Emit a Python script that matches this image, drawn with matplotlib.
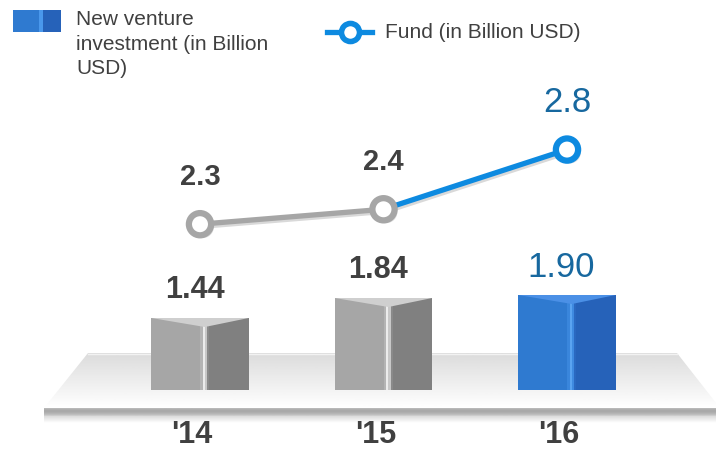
import matplotlib.pyplot as plt
import numpy as np
from matplotlib.patches import Polygon, Rectangle
from matplotlib.lines import Line2D
import matplotlib.patheffects as pe
import matplotlib.transforms as mtrans

plt.rcParams['font.family'] = ['Liberation Sans', 'DejaVu Sans']

# data
years = ["'14", "'15", "'16"]
investment = [1.44, 1.84, 1.90]
investment_labels = ['1.44', '1.84', '1.90']
fund = [2.3, 2.4, 2.8]
fund_labels = ['2.3', '2.4', '2.8']

DARK = '#404040'
BLUE_TXT = '#17689f'

fig = plt.figure(figsize=(7.16, 4.49), dpi=100)

# background / decoration axes in pixel coords
bg = fig.add_axes([0, 0, 1, 1], zorder=0)
bg.set_xlim(0, 716)
bg.set_ylim(449, 0)
bg.axis('off')

# platform with vertical gradient
plat = Polygon([(88, 353), (677, 353), (720, 408), (44, 408)], closed=True,
               facecolor='none', edgecolor='none')
bg.add_patch(plat)
grad = np.linspace(0.86, 1.0, 100).reshape(-1, 1)
img = bg.imshow(grad, cmap='gray', vmin=0, vmax=1, extent=(40, 720, 408, 353),
                aspect='auto', zorder=1)
img.set_clip_path(plat)
bg.plot([88, 677], [353.5, 353.5], color='#f2f2f2', lw=1, zorder=2)
# front strip + shadow
strip = np.array([0.72, 0.68, 0.66, 0.67, 0.70, 0.74, 0.80]).reshape(-1, 1)
bg.imshow(strip, cmap='gray', vmin=0, vmax=1, extent=(44, 716, 416, 408),
          aspect='auto', zorder=2)
shadow = np.linspace(0.86, 1.0, 20).reshape(-1, 1)
bg.imshow(shadow, cmap='gray', vmin=0, vmax=1, extent=(44, 716, 423, 416),
          aspect='auto', zorder=2)

# legend (decoration, pixel coords)
bg.add_patch(Rectangle((13, 10), 26, 22, facecolor='#2f7ad0', edgecolor='none', zorder=3))
bg.add_patch(Rectangle((39, 10), 4, 22, facecolor='#4a98ec', edgecolor='none', zorder=3))
bg.add_patch(Rectangle((43, 10), 18, 22, facecolor='#2662b9', edgecolor='none', zorder=3))
bg.text(76, 10, 'New venture\ninvestment (in Billion\nUSD)', fontsize=15, color=DARK,
        va='top', ha='left', linespacing=1.38, zorder=3)
bg.add_line(Line2D([327, 372], [32, 32], color='#0d8ae0', lw=3.8, zorder=3))
bg.add_line(Line2D([349.5], [32], marker='o', markersize=13, markerfacecolor='white',
                   markeredgecolor='#0d8ae0', markeredgewidth=4, zorder=4))
bg.text(385, 32, 'Fund (in Billion USD)', fontsize=15, color=DARK,
        va='center', ha='left', zorder=3)

# bars axes
xl = (-200 / 183.5, 516 / 183.5)
ax = fig.add_axes([0, 0, 1, 1], zorder=2)
ax.patch.set_alpha(0)
ax.set_xlim(*xl)
ax.set_ylim(-59 / 50, 390 / 50)
ax.axis('off')

x = np.arange(len(years))
w = 0.53
fold = 0.55  # fraction of width where the fold sits
styles = [
    dict(left='#a6a6a6', right='#808080', hi=['#b4b4b4', '#ececec', '#c8c8c8', '#8a8a8a'], top='#cfcfcf'),
    dict(left='#a6a6a6', right='#808080', hi=['#b4b4b4', '#ececec', '#c8c8c8', '#8a8a8a'], top='#cfcfcf'),
    dict(left='#2f7ad0', right='#2662b9', hi=['#3a86dc', '#5aa3f0', '#3f8ae0', '#2a68c0'], top='#4b90e6'),
]
for xi, v, st in zip(x, investment, styles):
    left = xi - w / 2
    fx = left + w * fold
    ax.bar(left, v, width=fx - left, align='edge', color=st['left'], zorder=3)
    ax.bar(fx, v, width=left + w - fx, align='edge', color=st['right'], zorder=3)
    hw = 0.012
    for j, c in enumerate(st['hi']):
        ax.bar(fx - 2 * hw + j * hw, v, width=hw, align='edge', color=c, zorder=4, lw=0)
    dip = 0.18
    ax.add_patch(Polygon([(left, v), (left + w, v), (fx, v - dip)], closed=True,
                         facecolor=st['top'], edgecolor='none', zorder=5))

for xi, v, lab in zip(x, investment, investment_labels):
    blue = lab == '1.90'
    ax.annotate(lab, (xi - 0.03, v), xytext=(0, 20), textcoords='offset points',
                ha='center', va='center', fontsize=25 if blue else 22,
                fontweight='normal' if blue else 'bold',
                color=BLUE_TXT if blue else DARK, zorder=6)

# year labels
off = mtrans.ScaledTranslation(-8 / 100, 0, fig.dpi_scale_trans)
for xi, yr in zip(x, years):
    ax.text(xi, -59 / 50 + 14 / 50, yr, ha='center', va='center', fontsize=22,
            fontweight='bold', color=DARK, transform=ax.transData + off, zorder=6)

# line axes
ax2 = fig.add_axes([0, 0, 1, 1], zorder=3)
ax2.patch.set_alpha(0)
ax2.set_xlim(*xl)
ax2.set_ylim(0.794, 3.802)
ax2.axis('off')

GRAY_L = '#a6a6a6'
BLUE_L = '#0d8ae0'
shadow_fx = [pe.SimpleLineShadow(offset=(1.5, -1.5), alpha=0.15), pe.Normal()]
ax2.plot(x[:2], fund[:2], color=GRAY_L, lw=3.8, zorder=3, path_effects=shadow_fx,
         solid_capstyle='butt')
ax2.plot(x[1:], fund[1:], color=BLUE_L, lw=3.8, zorder=3, path_effects=shadow_fx,
         solid_capstyle='butt')
edge_cols = [GRAY_L, GRAY_L, BLUE_L]
for xi, v, ec in zip(x, fund, edge_cols):
    ax2.plot([xi], [v], marker='o', markersize=16, markerfacecolor='white',
             markeredgecolor=ec, markeredgewidth=4.5, zorder=4,
             path_effects=[pe.SimplePatchShadow(offset=(2, -2), alpha=0.18), pe.Normal()])

for xi, v, lab in zip(x, fund, fund_labels):
    blue = lab == '2.8'
    ax2.annotate(lab, (xi, v), xytext=(0, 34), textcoords='offset points',
                 ha='center', va='center', fontsize=25 if blue else 21,
                 fontweight='normal' if blue else 'bold',
                 color=BLUE_TXT if blue else DARK, zorder=6)

fig.savefig('out.png', dpi=100)
